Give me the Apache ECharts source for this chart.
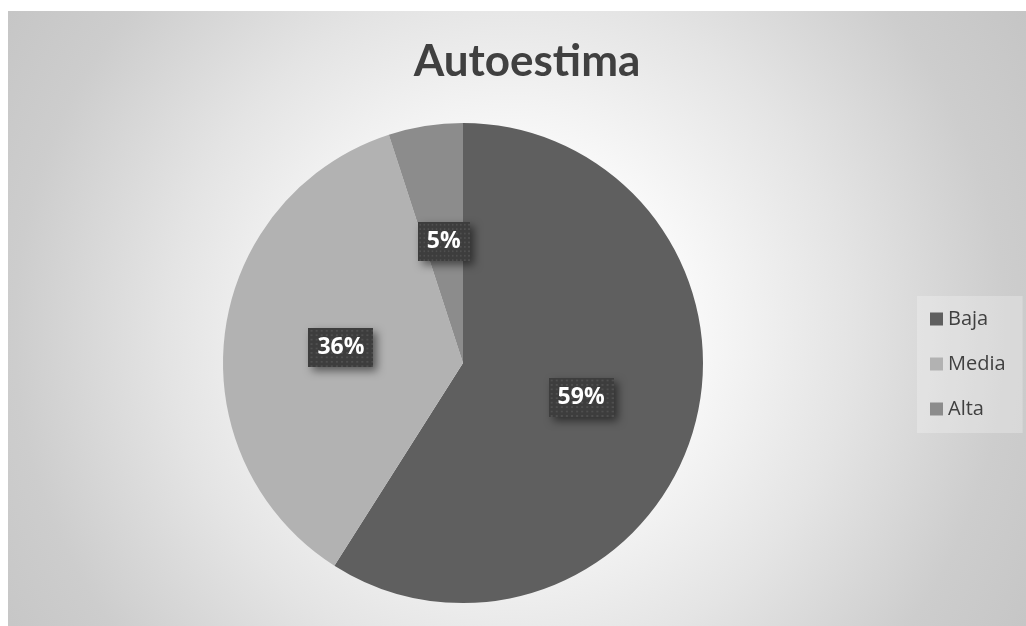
<!DOCTYPE html>
<html>
<head>
<meta charset="utf-8">
<script src="https://cdn.jsdelivr.net/npm/echarts@6/dist/echarts.min.js"></script>
<style>
  html, body { margin: 0; padding: 0; background: #fff; }
  #chart { width: 1026px; height: 626px; }
</style>
</head>
<body>
<div id="chart"></div>
<script>
// values
const categories = ['Baja', 'Media', 'Alta']
const percents = [59, 36, 5]
const sliceColors = ['#5f5f5f', '#b2b2b2', '#8c8c8c']

// dotted dark fill used behind the data labels
function dotPattern(w, h) {
    const c = document.createElement('canvas')
    c.width = w
    c.height = h
    const ctx = c.getContext('2d')
    ctx.fillStyle = '#3d3d3d'
    ctx.fillRect(0, 0, w, h)
    ctx.fillStyle = '#4f4f4f'
    for (let y = 2; y < h; y += 5) {
        for (let x = 2; x < w; x += 5) {
            ctx.fillRect(x, y, 2, 2)
        }
    }
    return c
}

const myChart = echarts.init(document.getElementById('chart'))

const option = {
    animation: false,
    graphic: [{
        type: 'rect',
        silent: true,
        z: -10,
        shape: { x: 8, y: 11, width: 1018, height: 615 },
        style: {
            fill: {
                type: 'radial', x: 510, y: 330, r: 620, global: true,
                colorStops: [
                    { offset: 0, color: '#ffffff' },
                    { offset: 0.3, color: '#f8f8f8' },
                    { offset: 0.55, color: '#e4e4e4' },
                    { offset: 0.8, color: '#cdcdcd' },
                    { offset: 1, color: '#c4c4c4' }
                ]
            }
        }
    }],
    title: {
        text: 'Autoestima',
        left: 522,
        top: 35,
        textAlign: 'center',
        textStyle: { fontFamily: 'Lato', fontWeight: 'bold', fontSize: 44, color: '#404040' }
    },
    legend: {
        orient: 'vertical',
        left: 917,
        top: 296,
        padding: [13, 17, 14, 13],
        backgroundColor: 'rgba(255,255,255,0.25)',
        itemWidth: 13,
        itemHeight: 13,
        itemGap: 25,
        icon: 'rect',
        selectedMode: false,
        textStyle: { fontFamily: 'Open Sans', fontSize: 20, color: '#404040' },
        data: categories
    },
    series: [{
        type: 'pie',
        center: [463, 363],
        radius: 240,
        startAngle: 90,
        clockwise: true,
        avoidLabelOverlap: false,
        emphasis: { disabled: true },
        itemStyle: { borderWidth: 0 },
        label: {
            show: true,
            position: 'inside',
            formatter: '{d}%',
            fontFamily: 'Open Sans',
            fontWeight: 'bold',
            fontSize: 23,
            color: '#ffffff',
            padding: [8, 9],
            backgroundColor: { image: dotPattern(64, 44) },
            shadowColor: 'rgba(0,0,0,0.5)',
            shadowBlur: 8,
            shadowOffsetX: 4,
            shadowOffsetY: 4
        },
        labelLine: { show: false },
        data: categories.map((name, i) => ({
            name: name,
            value: percents[i],
            itemStyle: { color: sliceColors[i] }
        }))
    }]
}

myChart.setOption(option)
</script>
</body>
</html>
